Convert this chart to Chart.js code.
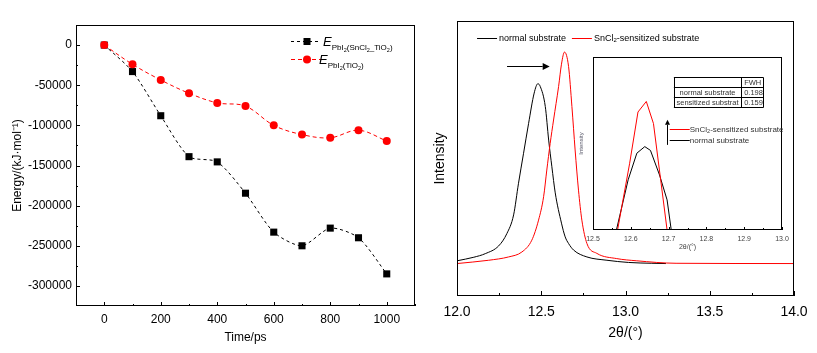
<!DOCTYPE html>
<html>
<head>
<meta charset="utf-8">
<script src="https://cdn.jsdelivr.net/npm/chart.js@4"></script>
<style>
  body { margin: 0; background: #fff; width: 817px; height: 353px; position: relative; overflow: hidden; }
  canvas { position: absolute; }
  #energy { left: 0; top: 0; }
  #xrd { left: 420px; top: 0; }
  #inset { left: 560px; top: 50px; }
</style>
</head>
<body>
<canvas id="energy" width="420" height="353"></canvas>
<canvas id="xrd" width="397" height="353"></canvas>
<canvas id="inset" width="240" height="210"></canvas>
<script>
// left panel: energy vs time
var times = [0, 100, 200, 300, 400, 500, 600, 700, 800, 900, 1000];
var energySnCl2TiO2 = [0, -33000, -88000, -139000, -145500, -184500, -233000, -250000, -228000, -240000, -285000];
var energyTiO2 = [0, -24000, -43500, -60000, -72000, -76000, -100000, -111500, -115500, -106000, -119500];
var timeTicks = [0, 200, 400, 600, 800, 1000];
var energyTicks = [0, -50000, -100000, -150000, -200000, -250000, -300000];

// right panel: XRD peak
var angleNormal = [12.0, 12.1, 12.168, 12.247, 12.296, 12.336, 12.365, 12.395, 12.425, 12.458, 12.48, 12.494, 12.524, 12.544, 12.563, 12.583, 12.62, 12.642, 12.662, 12.692, 12.771, 12.89, 13.017, 13.156, 13.24];
var intensityNormal = [12.8, 14.1, 15.4, 18.2, 22.7, 29.5, 41, 51.9, 62.8, 73.8, 77.2, 76.2, 68.9, 56.7, 47, 37.5, 26.5, 21.5, 19.1, 16.7, 14.2, 13.0, 12.2, 11.9, 11.8];
var angleSensitized = [12.0, 12.188, 12.306, 12.385, 12.444, 12.484, 12.514, 12.533, 12.553, 12.573, 12.603, 12.62, 12.638, 12.662, 12.682, 12.701, 12.721, 12.741, 12.771, 12.83, 12.948, 13.067, 13.3, 14.0];
var intensitySensitized = [11.8, 13.0, 14.2, 16.0, 20.3, 27.6, 36.1, 45.8, 55.5, 64, 76.2, 84.3, 88.7, 83.5, 68.9, 53.1, 38.5, 27.6, 19.1, 15.5, 13.6, 12.8, 11.9, 11.8];
var angleTicks = [12.0, 12.5, 13.0, 13.5, 14.0];

// inset: peak top
var insetAngleNormal = [12.562, 12.593, 12.616, 12.637, 12.652, 12.676, 12.696, 12.707];
var insetIntensityNormal = [0, 29, 44.4, 48.2, 46, 31.8, 17.4, 0];
var insetAngleSensitized = [12.565, 12.597, 12.619, 12.641, 12.66, 12.696];
var insetIntensitySensitized = [0, 38.6, 68.2, 74.3, 61.5, 0];
var insetAngleTicks = [12.5, 12.6, 12.7, 12.8, 12.9, 13.0];
var fwhmHeader = ["", "FWH"];
var fwhmRows = [["normal substrate", "0.198"], ["sensitized substrat", "0.159"]];

var FONT = "'Liberation Sans', Arial, sans-serif";
Chart.defaults.color = "#000";
Chart.defaults.font.family = FONT;

function pts(xs, ys) {
  return xs.map(function (x, i) { return { x: x, y: ys[i] }; });
}
function mids(arr) {
  var out = [];
  for (var i = 0; i < arr.length - 1; i++) out.push((arr[i] + arr[i + 1]) / 2);
  return out;
}

// frame around plot area + inward ticks
var frameTicks = {
  id: "frameTicks",
  afterDatasetsDraw: function (chart, args, opts) {
    var ctx = chart.ctx, a = chart.chartArea;
    ctx.save();
    ctx.strokeStyle = "#000";
    ctx.lineWidth = 1;
    ctx.strokeRect(a.left + 0.5, a.top + 0.5, a.right - a.left - 1, a.bottom - a.top - 1);
    ctx.beginPath();
    (opts.x || []).forEach(function (t) {
      t.values.forEach(function (v) {
        var px = Math.round(chart.scales.x.getPixelForValue(v)) + 0.5;
        ctx.moveTo(px, a.bottom);
        ctx.lineTo(px, a.bottom - t.len);
      });
    });
    (opts.y || []).forEach(function (t) {
      t.values.forEach(function (v) {
        var py = Math.round(chart.scales.y.getPixelForValue(v)) + 0.5;
        ctx.moveTo(a.left, py);
        ctx.lineTo(a.left + t.len, py);
      });
    });
    ctx.stroke();
    ctx.restore();
  },
};

// text with sub-scripts: parts = [[text, fontSize, dy, italic]]
function richText(ctx, x, y, parts) {
  parts.forEach(function (p) {
    ctx.font = (p[3] ? "italic " : "") + p[1] + "px " + FONT;
    ctx.fillText(p[0], x, y + p[2]);
    x += ctx.measureText(p[0]).width;
  });
}

var energyLegend = {
  id: "energyLegend",
  afterDraw: function (chart) {
    var ctx = chart.ctx, a = chart.chartArea;
    var x0 = a.right - 124, rows = [
      { y: a.top + 16, tx: 32, color: "#000", dash: [3, 3], mark: "rect", sub: [["PbI", 8], ["2", 5.5], ["(SnCl", 8], ["2", 5.5], ["_TiO", 8], ["2", 5.5], [")", 8]] },
      { y: a.top + 34, tx: 28, color: "#f00", dash: [4, 3], mark: "circle", sub: [["PbI", 8], ["2", 5.5], ["(TiO", 8], ["2", 5.5], [")", 8]] },
    ];
    ctx.save();
    rows.forEach(function (r) {
      ctx.strokeStyle = r.color;
      ctx.fillStyle = r.color;
      ctx.lineWidth = 1;
      ctx.setLineDash(r.dash);
      ctx.beginPath();
      ctx.moveTo(x0, r.y + 0.5);
      ctx.lineTo(x0 + 30, r.y + 0.5);
      ctx.stroke();
      ctx.setLineDash([]);
      ctx.beginPath();
      if (r.mark === "rect") ctx.rect(x0 + 12.5, r.y - 3, 7, 7);
      else ctx.arc(x0 + 16, r.y + 0.5, 4, 0, Math.PI * 2);
      ctx.fill();
      ctx.fillStyle = "#000";
      ctx.textBaseline = "alphabetic";
      var parts = [["E", 13, 0, true]];
      r.sub.forEach(function (s) {
        parts.push([s[0], s[1], s[1] < 8 ? 6 : 4]);
      });
      richText(ctx, x0 + r.tx, r.y + 5, parts);
    });
    ctx.restore();
  },
};

function arrow(ctx, x1, y1, x2, y2, head) {
  var ang = Math.atan2(y2 - y1, x2 - x1);
  ctx.beginPath();
  ctx.moveTo(x1, y1);
  ctx.lineTo(x2 - Math.cos(ang) * head, y2 - Math.sin(ang) * head);
  ctx.stroke();
  ctx.beginPath();
  ctx.moveTo(x2, y2);
  ctx.lineTo(x2 - Math.cos(ang) * head - Math.sin(ang) * head * 0.5, y2 - Math.sin(ang) * head + Math.cos(ang) * head * 0.5);
  ctx.lineTo(x2 - Math.cos(ang) * head + Math.sin(ang) * head * 0.5, y2 - Math.sin(ang) * head - Math.cos(ang) * head * 0.5);
  ctx.closePath();
  ctx.fill();
}

var xrdNotes = {
  id: "xrdNotes",
  afterDraw: function (chart) {
    var ctx = chart.ctx, xs = chart.scales.x, ys = chart.scales.y;
    ctx.save();
    ctx.lineWidth = 1;
    ctx.textBaseline = "middle";
    var ly = Math.round(ys.getPixelForValue(94)) + 0.5;
    [[12.119, "#000", [["normal substrate", 9, 0]]],
     [12.682, "#f00", [["SnCl", 9, 0], ["2", 6, 2], ["-sensitized substrate", 9, 0]]]].forEach(function (e) {
      var x1 = xs.getPixelForValue(e[0]);
      ctx.strokeStyle = e[1];
      ctx.beginPath();
      ctx.moveTo(x1, ly);
      ctx.lineTo(x1 + 20, ly);
      ctx.stroke();
      ctx.fillStyle = "#000";
      richText(ctx, x1 + 22, ly, e[2]);
    });
    ctx.strokeStyle = "#000";
    ctx.fillStyle = "#000";
    var ay = Math.round(ys.getPixelForValue(83.7)) + 0.5;
    arrow(ctx, xs.getPixelForValue(12.297), ay, xs.getPixelForValue(12.55), ay, 7);
    ctx.restore();
  },
};

var insetNotes = {
  id: "insetNotes",
  afterDraw: function (chart) {
    var ctx = chart.ctx, xs = chart.scales.x, ys = chart.scales.y;
    ctx.save();
    ctx.lineWidth = 1;
    // FWHM table
    var tl = xs.getPixelForValue(12.714), tr = xs.getPixelForValue(12.951), td = xs.getPixelForValue(12.892);
    var rowsY = [88.2, 82.8, 77.0, 71.2].map(function (v) { return Math.round(ys.getPixelForValue(v)) + 0.5; });
    ctx.strokeStyle = "#000";
    ctx.beginPath();
    rowsY.forEach(function (y) { ctx.moveTo(tl, y); ctx.lineTo(tr, y); });
    [tl, td, tr].forEach(function (x) {
      x = Math.round(x) + 0.5;
      ctx.moveTo(x, rowsY[0]);
      ctx.lineTo(x, rowsY[3]);
    });
    ctx.stroke();
    ctx.font = "7.5px " + FONT;
    ctx.fillStyle = "#333";
    ctx.textBaseline = "middle";
    [fwhmHeader].concat(fwhmRows).forEach(function (row, i) {
      var cy = (rowsY[i] + rowsY[i + 1]) / 2;
      ctx.textAlign = "center";
      ctx.fillText(row[0], (tl + td) / 2, cy);
      ctx.textAlign = "left";
      ctx.fillText(row[1], td + 3, cy);
    });
    // legend
    ctx.textAlign = "left";
    [[58.4, "#f00", [["SnCl", 8, 0], ["2", 5.5, 2], ["-sensitized substrate", 8, 0]]],
     [51.8, "#000", [["normal substrate", 8, 0]]]].forEach(function (e) {
      var y = Math.round(ys.getPixelForValue(e[0])) + 0.5;
      var x1 = xs.getPixelForValue(12.703);
      ctx.strokeStyle = e[1];
      ctx.beginPath();
      ctx.moveTo(x1, y);
      ctx.lineTo(x1 + 20, y);
      ctx.stroke();
      ctx.fillStyle = "#333";
      richText(ctx, x1 + 20, y, e[2]);
    });
    ctx.strokeStyle = "#000";
    ctx.fillStyle = "#000";
    var ax = Math.round(xs.getPixelForValue(12.696)) + 0.5;
    arrow(ctx, ax, ys.getPixelForValue(49.2), ax, ys.getPixelForValue(63.7), 5);
    ctx.restore();
  },
};

function fixedTicks(values) {
  return function (scale) {
    scale.ticks = values.map(function (v) { return { value: v }; });
  };
}

new Chart(document.getElementById("energy"), {
  type: "line",
  data: {
    datasets: [
      {
        label: "E PbI2(TiO2)",
        data: pts(times, energyTiO2),
        borderColor: "#f00",
        backgroundColor: "#f00",
        borderWidth: 1,
        borderDash: [4, 3],
        pointStyle: "circle",
        pointRadius: 4,
        pointBorderWidth: 0,
        tension: 0.35,
      },
      {
        label: "E PbI2(SnCl2_TiO2)",
        data: pts(times, energySnCl2TiO2),
        borderColor: "#000",
        backgroundColor: "#000",
        borderWidth: 1,
        borderDash: [3, 3],
        pointStyle: "rect",
        pointRadius: 5,
        pointBorderWidth: 0,
        tension: 0.25,
      },
    ],
  },
  options: {
    responsive: false,
    animation: false,
    layout: { padding: { left: 0, top: 25, right: 1, bottom: 0 } },
    plugins: {
      legend: { display: false },
      tooltip: { enabled: false },
      frameTicks: {
        x: [{ values: timeTicks, len: 4 }, { values: [-100].concat(mids(timeTicks), [1100]), len: 2 }],
        y: [{ values: energyTicks, len: 4 }, { values: mids(energyTicks), len: 2 }],
      },
    },
    scales: {
      x: {
        type: "linear",
        min: -100,
        max: 1100,
        afterBuildTicks: fixedTicks(timeTicks),
        afterFit: function (s) { s.height = 47; },
        grid: { display: false, drawTicks: false },
        border: { display: false },
        ticks: { padding: 6, font: { size: 12 }, callback: function (v) { return String(v); } },
        title: { display: true, text: "Time/ps", font: { size: 12 }, padding: { top: 0, bottom: 8 } },
      },
      y: {
        type: "linear",
        min: -325000,
        max: 25000,
        afterBuildTicks: fixedTicks(energyTicks),
        afterFit: function (s) { s.width = 76; },
        grid: { display: false, drawTicks: false },
        border: { display: false },
        ticks: { padding: 4, font: { size: 12 }, callback: function (v) { return String(v); } },
        title: { display: true, text: "Energy/(kJ·mol⁻¹)", font: { size: 12 }, padding: { top: 10, bottom: 0 } },
      },
    },
  },
  plugins: [frameTicks, energyLegend],
});

new Chart(document.getElementById("xrd"), {
  type: "line",
  data: {
    datasets: [
      {
        label: "SnCl2-sensitized substrate",
        data: pts(angleSensitized, intensitySensitized),
        borderColor: "#f00",
        borderWidth: 1,
        pointRadius: 0,
        cubicInterpolationMode: "monotone",
      },
      {
        label: "normal substrate",
        data: pts(angleNormal, intensityNormal),
        borderColor: "#000",
        borderWidth: 1,
        pointRadius: 0,
        cubicInterpolationMode: "monotone",
      },
    ],
  },
  options: {
    responsive: false,
    animation: false,
    layout: { padding: { left: 0, top: 21, right: 23, bottom: 0 } },
    plugins: {
      legend: { display: false },
      tooltip: { enabled: false },
      frameTicks: {
        x: [{ values: angleTicks, len: 5 }, { values: mids(angleTicks), len: 3 }],
      },
    },
    scales: {
      x: {
        type: "linear",
        min: 12,
        max: 14,
        afterBuildTicks: fixedTicks(angleTicks),
        afterFit: function (s) { s.height = 57; },
        grid: { display: false, drawTicks: false },
        border: { display: false },
        ticks: { padding: 8, font: { size: 14 }, callback: function (v) { return v.toFixed(1); } },
        title: { display: true, text: "2θ/(°)", font: { size: 14 }, padding: { top: 0, bottom: 11 } },
      },
      y: {
        type: "linear",
        min: 0,
        max: 100,
        afterFit: function (s) { s.width = 37; },
        grid: { display: false, drawTicks: false },
        border: { display: false },
        ticks: { display: false },
        title: { display: true, text: "Intensity", font: { size: 14 }, padding: { top: 12, bottom: 0 } },
      },
    },
  },
  plugins: [frameTicks, xrdNotes],
});

new Chart(document.getElementById("inset"), {
  type: "line",
  data: {
    datasets: [
      {
        label: "SnCl2-sensitized substrate",
        data: pts(insetAngleSensitized, insetIntensitySensitized),
        borderColor: "#f00",
        borderWidth: 1,
        pointRadius: 0,
        tension: 0,
      },
      {
        label: "normal substrate",
        data: pts(insetAngleNormal, insetIntensityNormal),
        borderColor: "#000",
        borderWidth: 1,
        pointRadius: 0,
        tension: 0,
      },
    ],
  },
  options: {
    responsive: false,
    animation: false,
    layout: { padding: { left: 0, top: 7, right: 18, bottom: 0 } },
    plugins: {
      legend: { display: false },
      tooltip: { enabled: false },
      frameTicks: {
        x: [{ values: insetAngleTicks, len: 3 }, { values: mids(insetAngleTicks), len: 2 }],
      },
    },
    scales: {
      x: {
        type: "linear",
        min: 12.5,
        max: 13.0,
        afterBuildTicks: fixedTicks(insetAngleTicks),
        afterFit: function (s) { s.height = 30; },
        grid: { display: false, drawTicks: false },
        border: { display: false },
        ticks: { padding: 5, color: "#444", font: { size: 7 }, callback: function (v) { return v.toFixed(1); } },
        title: { display: true, text: "2θ/(°)", color: "#444", font: { size: 7 }, padding: { top: 0, bottom: 9 } },
      },
      y: {
        type: "linear",
        min: 0,
        max: 100,
        afterFit: function (s) { s.width = 33; },
        grid: { display: false, drawTicks: false },
        border: { display: false },
        ticks: { display: false },
        title: { display: true, text: "Intensity", color: "#556", font: { size: 6 }, padding: { top: 18, bottom: 0 } },
      },
    },
  },
  plugins: [frameTicks, insetNotes],
});
</script>
</body>
</html>
